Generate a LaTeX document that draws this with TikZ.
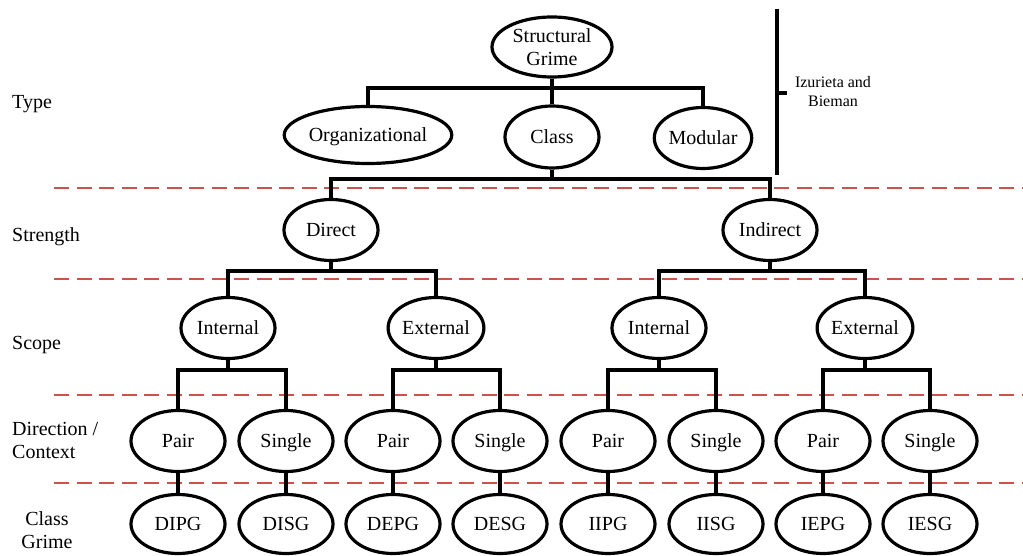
\documentclass[tikz,border=0pt]{standalone}
\usepackage{fontspec}
\setmainfont{Liberation Serif}
\usetikzlibrary{shapes.geometric}
\definecolor{levelred}{RGB}{204,82,76}
\tikzset{
  grime/.style={draw, ellipse, line width=3.2pt, inner sep=0pt, minimum width=94pt, minimum height=61pt, align=center},
  oneline/.style={text height=16pt, text depth=3pt},
  bus/.style={line width=3.2pt},
  level/.style={levelred, line width=2.8pt, dash pattern=on 15pt off 7.5pt},
  side/.style={inner sep=0pt, align=left, anchor=west}
}
\begin{document}
\begin{tikzpicture}[x=1pt, y=-1pt, font=\fontsize{20}{23}\selectfont]
  \useasboundingbox (0,0) rectangle (1023,556);
  % Niveaux
  \draw[level] (54,188) -- (1023,188);
  \draw[level] (54,279) -- (1023,279);
  \draw[level] (54,395) -- (1023,395);
  \draw[level] (54,483) -- (1023,483);
  \node[side] (lbltype) at (12,104) {Type};
  \node[side] (lblstrength) at (12,237) {Strength};
  \node[side] (lblscope) at (12,345) {Scope};
  \node[side] (lbldir) at (12,440) {Direction /\\Context};
  \node[inner sep=0pt, align=center] (lblgrime) at (47,530) {Class\\Grime};
  % Type
  \node[grime, minimum width=120pt, minimum height=60pt] (sg) at (552,47) {Structural\\Grime};
  \node[grime, oneline, minimum width=163pt, minimum height=57pt] (org) at (368,135) {Organizational};
  \node[grime, oneline, minimum height=62pt] (cls) at (552,137) {Class};
  \node[grime, oneline] (mod) at (703,138) {Modular};
  \draw[bus] (org.north) |- (mod.north |- 0,88) -- (mod.north);
  \draw[bus] (sg.south) -- (cls.north);
  % Izurieta and Bieman
  \draw[bus] (777,9) -- (777,175);
  \draw[bus] (777,93) -- (787,93);
  \node[inner sep=0pt, align=center, font=\fontsize{16}{19}\selectfont] (izb) at (833,92) {Izurieta and\\Bieman};
  % Strength
  \node[grime, oneline] (dir) at (331,230) {Direct};
  \node[grime, oneline] (ind) at (770,230) {Indirect};
  \draw[bus] (dir.north) |- (ind.north |- 0,179) -- (ind.north);
  \draw[bus] (cls.south) -- (cls.south |- 0,179);
  % Scope
  \node[grime, oneline] (di) at (228,328) {Internal};
  \node[grime, oneline] (de) at (436,328) {External};
  \node[grime, oneline] (ii) at (659,328) {Internal};
  \node[grime, oneline] (ie) at (865,328) {External};
  \draw[bus] (di.north) |- (de.north |- 0,271) -- (de.north);
  \draw[bus] (dir.south) -- (dir.south |- 0,271);
  \draw[bus] (ii.north) |- (ie.north |- 0,271) -- (ie.north);
  \draw[bus] (ind.south) -- (ind.south |- 0,271);
  % Direction / Context et Class Grime
  \foreach \x/\dc/\cg [count=\i] in {178/Pair/DIPG, 286/Single/DISG, 393/Pair/DEPG, 500/Single/DESG,
      608/Pair/IIPG, 716/Single/IISG, 823/Pair/IEPG, 930/Single/IESG} {
    \node[grime, oneline] (dc\i) at (\x,441) {\dc};
    \node[grime, oneline, minimum height=59pt] (cg\i) at (\x,524) {\cg};
    \draw[bus] (dc\i.south) -- (cg\i.north);
  }
  \draw[bus] (dc1.north) |- (dc2.north |- 0,370) -- (dc2.north);
  \draw[bus] (di.south) -- (di.south |- 0,370);
  \draw[bus] (dc3.north) |- (dc4.north |- 0,370) -- (dc4.north);
  \draw[bus] (de.south) -- (de.south |- 0,370);
  \draw[bus] (dc5.north) |- (dc6.north |- 0,370) -- (dc6.north);
  \draw[bus] (ii.south) -- (ii.south |- 0,370);
  \draw[bus] (dc7.north) |- (dc8.north |- 0,370) -- (dc8.north);
  \draw[bus] (ie.south) -- (ie.south |- 0,370);
\end{tikzpicture}
\end{document}
